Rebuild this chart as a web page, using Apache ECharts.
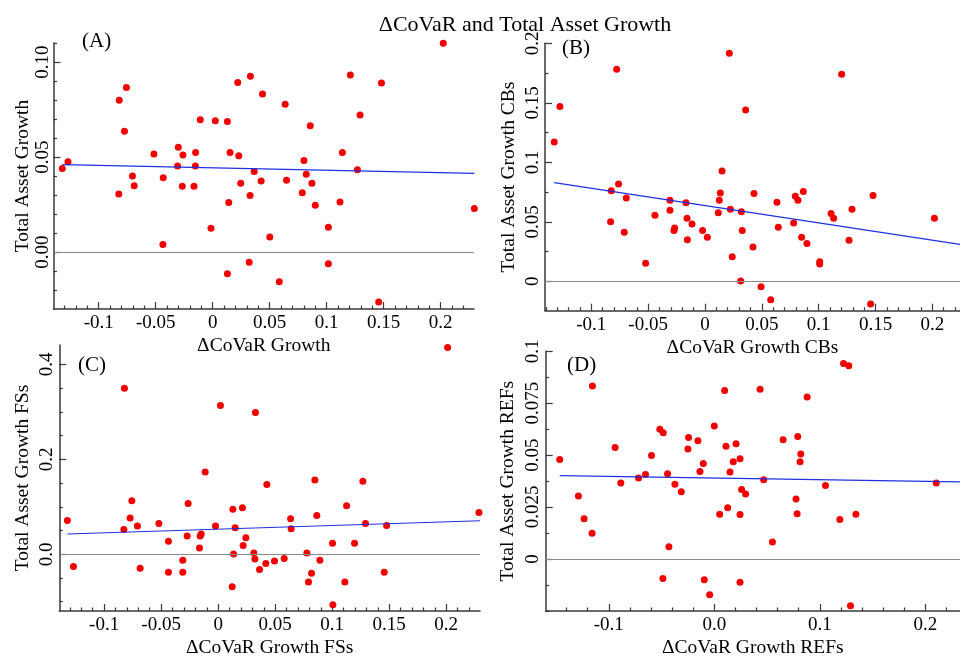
<!DOCTYPE html>
<html>
<head>
<meta charset="utf-8">
<script src="https://cdn.jsdelivr.net/npm/echarts@6/dist/echarts.min.js"></script>
<style>
  html, body { margin: 0; padding: 0; background: #fff; }
  #chart { width: 960px; height: 659px; }
</style>
</head>
<body>
<div id="chart"></div>
<script>
const FONT = '"Liberation Serif", "Times New Roman", serif';

// (A) all banks
const pointsA = [
  [-0.132,0.044],[-0.127,0.0476],[-0.082,0.080],[-0.0757,0.0867],[-0.0774,0.0636],[-0.0824,0.0306],
  [-0.0704,0.0401],[-0.0689,0.0349],[-0.0516,0.0517],[-0.0434,0.0392],[-0.0437,0.004],[-0.0302,0.0552],
  [-0.0308,0.0454],[-0.0261,0.0511],[-0.0267,0.0347],[-0.015,0.0525],[-0.0152,0.0454],[-0.0164,0.0347],
  [-0.0109,0.0697],[-0.0015,0.0126],[0.0023,0.0692],[0.0129,0.0688],[0.0152,0.0525],[0.0141,0.0261],
  [0.0129,-0.0114],[0.022,0.0893],[0.0229,0.0508],[0.0246,0.0363],[0.0331,0.0926],[0.0328,0.0298],
  [0.032,-0.0054],[0.0364,0.0424],[0.0425,0.0375],[0.0437,0.0832],[0.0501,0.0079],[0.0584,-0.0156],
  [0.0636,0.0778],[0.0648,0.0378],[0.0786,0.0312],[0.0801,0.0482],[0.0821,0.041],[0.0856,0.0665],
  [0.0871,0.0363],[0.09,0.0247],[0.1015,0.0131],[0.1015,-0.0061],[0.1117,0.0264],[0.1138,0.0524],
  [0.1208,0.0932],[0.127,0.0434],[0.1293,0.0722],[0.1481,0.089],[0.1457,-0.0263],[0.2023,0.11],
  [0.2296,0.0229]
];
const fitA = [[-0.132,0.0461],[0.2296,0.0415]];

// (B) CBs
const pointsB = [
  [-0.1326,0.1171],[-0.1276,0.1468],[-0.0777,0.1782],[-0.076,0.0818],[-0.0824,0.0762],[-0.083,0.0501],
  [-0.0692,0.07],[-0.071,0.0412],[-0.0522,0.0151],[-0.044,0.0555],[-0.0308,0.0681],[-0.0308,0.0597],
  [-0.0267,0.0448],[-0.0273,0.0426],[-0.0167,0.0661],[-0.0158,0.0529],[-0.0155,0.035],[-0.0114,0.0482],
  [-0.0021,0.0426],[0.0021,0.037],[0.0117,0.0577],[0.0126,0.0681],[0.0135,0.0742],[0.015,0.0927],
  [0.0214,0.1916],[0.0223,0.0605],[0.024,0.0207],[0.032,0.0585],[0.0328,0.0426],[0.0314,0.0003],
  [0.0358,0.144],[0.0422,0.0289],[0.0431,0.0737],[0.0493,-0.0045],[0.0578,-0.0154],[0.0633,0.0664],
  [0.0645,0.0454],[0.078,0.049],[0.0795,0.0714],[0.0818,0.0681],[0.085,0.037],[0.0865,0.0754],
  [0.0897,0.0317],[0.1009,0.0165],[0.1009,0.0146],[0.1109,0.0569],[0.1132,0.0529],[0.1202,0.1739],
  [0.1267,0.0345],[0.1293,0.0605],[0.1457,-0.019],[0.1478,0.072],[0.2018,0.0529]
];
const fitB = [[-0.1326,0.0829],[0.2243,0.0311]];

// (C) FSs
const pointsC = [
  [-0.1322,0.0713],[-0.1269,-0.0259],[-0.0822,0.3497],[-0.0827,0.0524],[-0.0772,0.0762],[-0.0757,0.1126],
  [-0.0708,0.0594],[-0.0684,-0.0294],[-0.052,0.065],[-0.0436,0.0273],[-0.0436,-0.0378],[-0.031,-0.0126],
  [-0.031,-0.0378],[-0.0272,0.0385],[-0.0263,0.107],[-0.0164,0.0133],[-0.0158,0.0385],[-0.0149,0.0427],
  [-0.0114,0.1734],[-0.0023,0.0594],[0.002,0.3133],[0.0123,-0.0685],[0.0129,0.0951],[0.0135,0.0007],
  [0.0149,0.0559],[0.0213,0.0979],[0.0219,0.0182],[0.0243,0.035],[0.0313,0.0028],[0.0322,-0.0098],
  [0.0327,0.2986],[0.0363,-0.0322],[0.0418,-0.0196],[0.0427,0.1469],[0.0494,-0.014],[0.0579,-0.0091],
  [0.0635,0.0748],[0.064,0.0538],[0.0778,0.0028],[0.0792,-0.0587],[0.0819,-0.0399],[0.0848,0.1566],
  [0.0865,0.0818],[0.0892,-0.0126],[0.1003,0.0231],[0.1006,-0.1063],[0.1111,-0.0587],[0.1126,0.1021],
  [0.1196,0.0231],[0.1269,0.1538],[0.1292,0.065],[0.1456,-0.0378],[0.1477,0.0608],[0.2012,0.4357],
  [0.2287,0.0881]
];
const fitC = [[-0.1322,0.0427],[0.2296,0.0706]];

// (D) REFs
const pointsD = [
  [-0.1465,0.0479],[-0.1288,0.0303],[-0.1234,0.0193],[-0.1158,0.0123],[-0.1155,0.0833],[-0.094,0.0537],
  [-0.0886,0.0365],[-0.0718,0.039],[-0.0652,0.0407],[-0.0595,0.0498],[-0.0516,0.0624],[-0.0484,0.0608],
  [-0.0487,-0.0094],[-0.0443,0.041],[-0.043,0.0059],[-0.0373,0.036],[-0.0313,0.0323],[-0.025,0.0529],
  [-0.0244,0.0585],[-0.0155,0.0569],[-0.0136,0.0421],[-0.0104,0.046],[-0.0095,-0.0101],[-0.0044,-0.0173],
  [0.0,0.064],[0.0051,0.0215],[0.0098,0.0811],[0.0111,0.0543],[0.0127,0.0246],[0.0149,0.0418],
  [0.018,0.0468],[0.0206,0.0555],[0.0244,0.0482],[0.0244,0.0214],[0.0244,-0.0112],[0.0259,0.0334],
  [0.0297,0.0312],[0.0434,0.0817],[0.0468,0.0381],[0.0551,0.0081],[0.0652,0.0574],[0.0775,0.0289],
  [0.0785,0.0218],[0.0791,0.059],[0.0813,0.0468],[0.082,0.0505],[0.088,0.078],[0.1054,0.0354],
  [0.119,0.019],[0.1225,0.0941],[0.1275,0.093],[0.1291,-0.0226],[0.1342,0.0215],[0.2104,0.0365]
];
const fitD = [[-0.1465,0.0401],[0.2332,0.0371]];

// tick values and labels
const xTicks = [-0.1, -0.05, 0, 0.05, 0.1, 0.15, 0.2];
const xLabels = ['-0.1', '-0.05', '0', '0.05', '0.1', '0.15', '0.2'];
const xTicksD = [-0.1, 0, 0.1, 0.2];
const xLabelsD = ['-0.1', '0.0', '0.1', '0.2'];
const yTicksA = [0, 0.05, 0.1];
const yLabelsA = ['0.00', '0.05', '0.10'];
const yTicksB = [0, 0.05, 0.1, 0.15, 0.2];
const yLabelsB = ['0', '0.05', '0.1', '0.15', '0.2'];
const yTicksC = [0, 0.2, 0.4];
const yLabelsC = ['0.0', '0.2', '0.4'];
const yTicksD = [0, 0.025, 0.05, 0.075, 0.1];
const yLabelsD = ['0', '0.025', '0.05', '0.075', '0.1'];

function minorTicks(min, max, step, majors) {
  const out = [];
  for (let k = Math.ceil(min / step - 1e-6); k * step <= max + 1e-9; k++) {
    const v = +(k * step).toFixed(6);
    if (!majors.some(m => Math.abs(m - v) < 1e-6)) out.push(v);
  }
  return out;
}

function labelFor(ticks, labels) {
  return v => {
    const i = ticks.findIndex(t => Math.abs(t - v) < 1e-7);
    return i < 0 ? '' : labels[i];
  };
}

const panels = [
  { grid: { left: 53.5, top: 43, width: 420.5, height: 266 },
    x: [-0.1397, 0.2293], y: [-0.02995, 0.1101],
    xt: xTicks, xl: xLabels, xm: 0.01, yt: yTicksA, yl: yLabelsA, ym: 0.01,
    xName: 'ΔCoVaR Growth', yName: 'Total Asset Growth',
    pts: pointsA, fit: fitA, tag: '(A)', tagPos: [82, 41.5], yNameGap: 20, yMargin: 1 },
  { grid: { left: 545, top: 43.3, width: 415, height: 267.4 },
    x: [-0.1407, 0.2243], y: [-0.0247, 0.2],
    xt: xTicks, xl: xLabels, xm: 0.01, yt: yTicksB, yl: yLabelsB, ym: 0.025,
    xName: 'ΔCoVaR Growth CBs', yName: 'Total Asset Growth CBs',
    pts: pointsB, fit: fitB, tag: '(B)', tagPos: [562, 48.5], yNameGap: 26, yMargin: 2 },
  { grid: { left: 59.3, top: 345, width: 420.7, height: 267.3 },
    x: [-0.1393, 0.2296], y: [-0.1196, 0.441],
    xt: xTicks, xl: xLabels, xm: 0.01, yt: yTicksC, yl: yLabelsC, ym: 0.05,
    xName: 'ΔCoVaR Growth FSs', yName: 'Total Asset Growth FSs',
    pts: pointsC, fit: fitC, tag: '(C)', tagPos: [78, 365], yNameGap: 26, yMargin: 3 },
  { grid: { left: 545.7, top: 351.3, width: 414.3, height: 267.4 },
    x: [-0.1598, 0.2329], y: [-0.0251, 0.1],
    xt: xTicksD, xl: xLabelsD, xm: 0.02, yt: yTicksD, yl: yLabelsD, ym: 0.0125,
    xName: 'ΔCoVaR Growth REFs', yName: 'Total Asset Growth REFs',
    pts: pointsD, fit: fitD, tag: '(D)', tagPos: [567, 365], yNameGap: 28, yMargin: 3 }
];

const AXIS_COLOR = '#3a3a3a';
const grids = [], xAxes = [], yAxes = [], series = [], graphics = [];

panels.forEach((p, i) => {
  grids.push(p.grid);
  xAxes.push({
    type: 'value', gridIndex: i, position: 'bottom', min: p.x[0], max: p.x[1],
    name: p.xName, nameLocation: 'middle', nameGap: 27,
    nameTextStyle: { fontFamily: FONT, fontSize: 19.5, color: '#000' },
    axisLine: { show: true, onZero: false, lineStyle: { color: AXIS_COLOR, width: 1.5 } },
    axisTick: { show: true, inside: true, length: 7, customValues: p.xt, lineStyle: { color: AXIS_COLOR, width: 1.2 } },
    axisLabel: { customValues: p.xt, formatter: labelFor(p.xt, p.xl), margin: 5,
      fontFamily: FONT, fontSize: 19, color: '#000' },
    splitLine: { show: false }
  });
  yAxes.push({
    type: 'value', gridIndex: i, position: 'left', min: p.y[0], max: p.y[1],
    name: p.yName, nameLocation: 'middle', nameGap: p.yNameGap,
    nameTextStyle: { fontFamily: FONT, fontSize: 19.5, color: '#000' },
    axisLine: { show: true, onZero: false, lineStyle: { color: AXIS_COLOR, width: 1.5 } },
    axisTick: { show: true, inside: true, length: 7, customValues: p.yt, lineStyle: { color: AXIS_COLOR, width: 1.2 } },
    axisLabel: { customValues: p.yt, formatter: labelFor(p.yt, p.yl), margin: p.yMargin, rotate: 90,
      fontFamily: FONT, fontSize: 19, color: '#000' },
    splitLine: { show: false }
  });
  series.push({
    type: 'scatter', xAxisIndex: i, yAxisIndex: i, data: p.pts,
    symbolSize: 7, clip: false,
    itemStyle: { color: '#f20000', opacity: 1 },
    markLine: {
      silent: true, symbol: 'none', label: { show: false },
      lineStyle: { color: '#8a8a8a', width: 1, type: 'solid' },
      data: [{ yAxis: 0 }]
    }
  });
  series.push({
    type: 'line', xAxisIndex: i, yAxisIndex: i, data: p.fit,
    showSymbol: false, symbol: 'none',
    lineStyle: { color: '#1f2fe0', width: 1.2 }
  });
  graphics.push({
    type: 'text', x: p.tagPos[0], y: p.tagPos[1],
    style: { text: p.tag, font: '21px ' + FONT, fill: '#000', verticalAlign: 'middle' }
  });
});

// second set of axes only for the short minor ticks
panels.forEach((p, i) => {
  xAxes.push({
    type: 'value', gridIndex: i, position: 'bottom', min: p.x[0], max: p.x[1],
    axisLine: { show: false, onZero: false },
    axisTick: { show: true, inside: true, length: 3.5, customValues: minorTicks(p.x[0], p.x[1], p.xm, p.xt),
      lineStyle: { color: AXIS_COLOR, width: 1.2 } },
    axisLabel: { show: false }, splitLine: { show: false }
  });
  yAxes.push({
    type: 'value', gridIndex: i, position: 'left', min: p.y[0], max: p.y[1],
    axisLine: { show: false, onZero: false },
    axisTick: { show: true, inside: true, length: 3.5, customValues: minorTicks(p.y[0], p.y[1], p.ym, p.yt),
      lineStyle: { color: AXIS_COLOR, width: 1.2 } },
    axisLabel: { show: false }, splitLine: { show: false }
  });
});

const chart = echarts.init(document.getElementById('chart'));
chart.setOption({
  animation: false,
  backgroundColor: '#fff',
  title: {
    text: 'ΔCoVaR and Total Asset Growth',
    left: 520, top: 9, textAlign: 'center',
    textStyle: { fontFamily: FONT, fontSize: 22, fontWeight: 'normal', color: '#000' }
  },
  grid: grids,
  xAxis: xAxes,
  yAxis: yAxes,
  series: series,
  graphic: graphics
});

window.addEventListener('resize', () => chart.resize());
</script>
</body>
</html>
